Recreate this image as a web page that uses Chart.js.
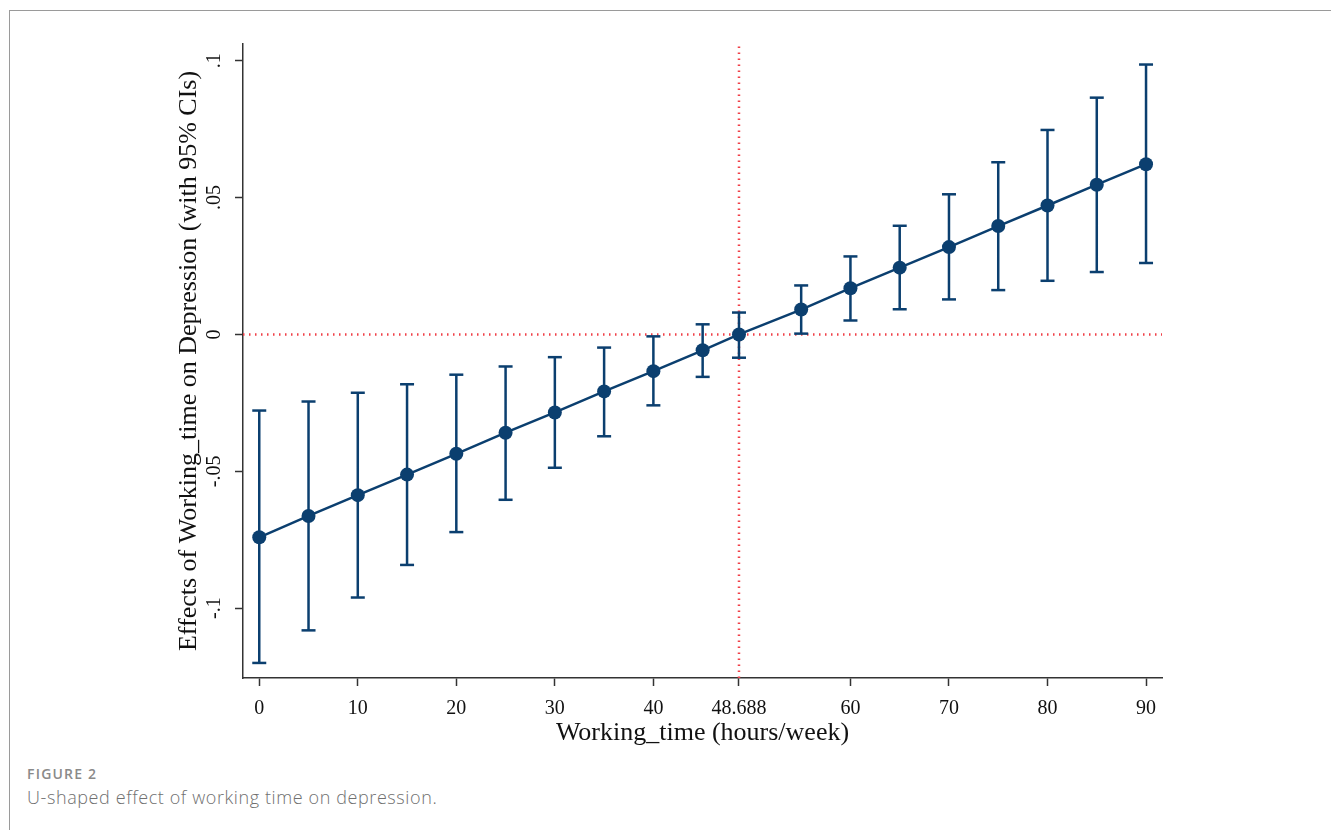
<!DOCTYPE html>
<html>
<head>
<meta charset="utf-8">
<script src="https://cdn.jsdelivr.net/npm/chart.js@4/dist/chart.umd.min.js"></script>
<style>
  html, body { margin: 0; padding: 0; background: #fff; }
  body { width: 1331px; height: 830px; position: relative; overflow: hidden; }
  #frame { position: absolute; left: 9px; top: 10px; width: 1400px; height: 900px;
           border-left: 1.5px solid #9a9a9a; border-top: 1.5px solid #9a9a9a; }
  #wrap { position: absolute; left: 0; top: 0; width: 1331px; height: 749px; }
  #fig { position: absolute; left: 27px; top: 764px; font-family: "Open Sans", sans-serif;
         font-size: 14px; font-weight: 600; color: #8a8a8a; letter-spacing: 1.2px; }
  #cap { position: absolute; left: 27px; top: 785px; font-family: "Open Sans", sans-serif;
         font-size: 18px; color: #707070; font-weight: 300; letter-spacing: 0.6px; }
</style>
</head>
<body>
<div id="frame"></div>
<div id="wrap"><canvas id="c" width="1331" height="749"></canvas></div>
<div id="fig">FIGURE 2</div>
<div id="cap">U-shaped effect of working time on depression.</div>
<script>
// ---- data ----
const hours = [0, 5, 10, 15, 20, 25, 30, 35, 40, 45, 48.688, 55, 60, 65, 70, 75, 80, 85, 90];
const effect = [-0.0741, -0.0663, -0.0587, -0.0512, -0.0436, -0.0359, -0.0285, -0.0208, -0.0134, -0.0058,
                0.0000, 0.0091, 0.0169, 0.0244, 0.0319, 0.0396, 0.0471, 0.0547, 0.0622];
const ciLow = [-0.1200, -0.1081, -0.0961, -0.0842, -0.0722, -0.0604, -0.0487, -0.0372, -0.0259, -0.0155,
               -0.0085, 0.0003, 0.0051, 0.0092, 0.0128, 0.0162, 0.0196, 0.0228, 0.0261];
const ciHigh = [-0.0278, -0.0245, -0.0213, -0.0182, -0.0147, -0.0117, -0.0083, -0.0048, -0.0007, 0.0037,
                0.0080, 0.0179, 0.0285, 0.0397, 0.0512, 0.0629, 0.0747, 0.0865, 0.0986];
const xTickValues = [0, 10, 20, 30, 40, 48.688, 60, 70, 80, 90];
const xTickLabels = ['0', '10', '20', '30', '40', '48.688', '60', '70', '80', '90'];
const yTickValues = [-0.1, -0.05, 0, 0.05, 0.1];
const yTickLabels = ['-.1', '-.05', '0', '.05', '.1'];
const turningPoint = 48.688;
const zeroLine = 0;
const xMin = -1.65, xMax = 91.62;
const yMin = -0.1255, yMax = 0.1061;

// ---- build datasets ----
const navy = '#0b3f6f';
const red = '#f04048';
const mainPts = hours.map((h, i) => ({ x: h, y: effect[i] }));
const ciPts = [];
hours.forEach((h, i) => {
  ciPts.push({ x: h, y: ciLow[i] });
  ciPts.push({ x: h, y: ciHigh[i] });
  ciPts.push({ x: h, y: null });
});
const hLine = [{ x: xMin, y: zeroLine }, { x: xMax, y: zeroLine }];
const vLine = [{ x: turningPoint, y: yMin }, { x: turningPoint, y: yMax }];

const serif = 'Liberation Serif';
new Chart(document.getElementById('c'), {
  type: 'scatter',
  data: {
    datasets: [
      { data: mainPts, showLine: true, borderColor: navy, borderWidth: 2.5,
        pointRadius: 7, pointBackgroundColor: navy, pointBorderColor: navy, pointBorderWidth: 0, order: 1 },
      { data: ciPts, showLine: true, spanGaps: false, borderColor: navy, borderWidth: 2.5,
        pointStyle: 'line', pointRadius: 7, pointBorderColor: navy, pointBorderWidth: 2.5, order: 2 },
      { data: hLine, showLine: true, borderColor: red, backgroundColor: red, borderWidth: 2.5,
        borderDash: [1.5, 4.5], borderCapStyle: 'butt', pointRadius: 0, order: 3 },
      { data: vLine, showLine: true, borderColor: red, backgroundColor: red, borderWidth: 2.5,
        borderDash: [1.5, 4.5], borderCapStyle: 'butt', pointRadius: 0, order: 3 }
    ]
  },
  options: {
    responsive: false,
    animation: false,
    devicePixelRatio: 1,
    layout: { padding: { left: 174, right: 169, top: 44, bottom: 0 } },
    plugins: { legend: { display: false }, tooltip: { enabled: false } },
    scales: {
      x: {
        type: 'linear', min: xMin, max: xMax,
        afterBuildTicks: (s) => { s.ticks = xTickValues.map(v => ({ value: v })); },
        afterFit: (s) => { s.height = 71; },
        ticks: {
          autoSkip: false, maxRotation: 0, minRotation: 0, padding: 11,
          color: '#111', font: { family: serif, size: 20 },
          callback: (v) => { const k = xTickValues.indexOf(v); return k >= 0 ? xTickLabels[k] : ''; }
        },
        grid: { drawOnChartArea: false, drawTicks: true, tickLength: 8, tickColor: '#333', tickWidth: 1.5 },
        border: { display: true, color: '#333', width: 1.5 },
        title: { display: true, text: 'Working_time (hours/week)', color: '#111',
                 font: { family: serif, size: 26 }, padding: 0 }
      },
      y: {
        type: 'linear', min: yMin, max: yMax,
        afterBuildTicks: (s) => { s.ticks = yTickValues.map(v => ({ value: v })); },
        afterFit: (s) => { s.width = 69; },
        ticks: {
          minRotation: 90, maxRotation: 90, crossAlign: 'center', padding: 4,
          color: '#111', font: { family: serif, size: 20 },
          callback: (v) => { const k = yTickValues.indexOf(v); return k >= 0 ? yTickLabels[k] : ''; }
        },
        grid: { drawOnChartArea: false, drawTicks: true, tickLength: 8, tickColor: '#333', tickWidth: 1.5 },
        border: { display: true, color: '#333', width: 1.5 },
        title: { display: true, text: 'Effects of Working_time on Depression (with 95% CIs)', color: '#111',
                 font: { family: serif, size: 26 }, padding: 0 }
      }
    }
  }
});
</script>
</body>
</html>
